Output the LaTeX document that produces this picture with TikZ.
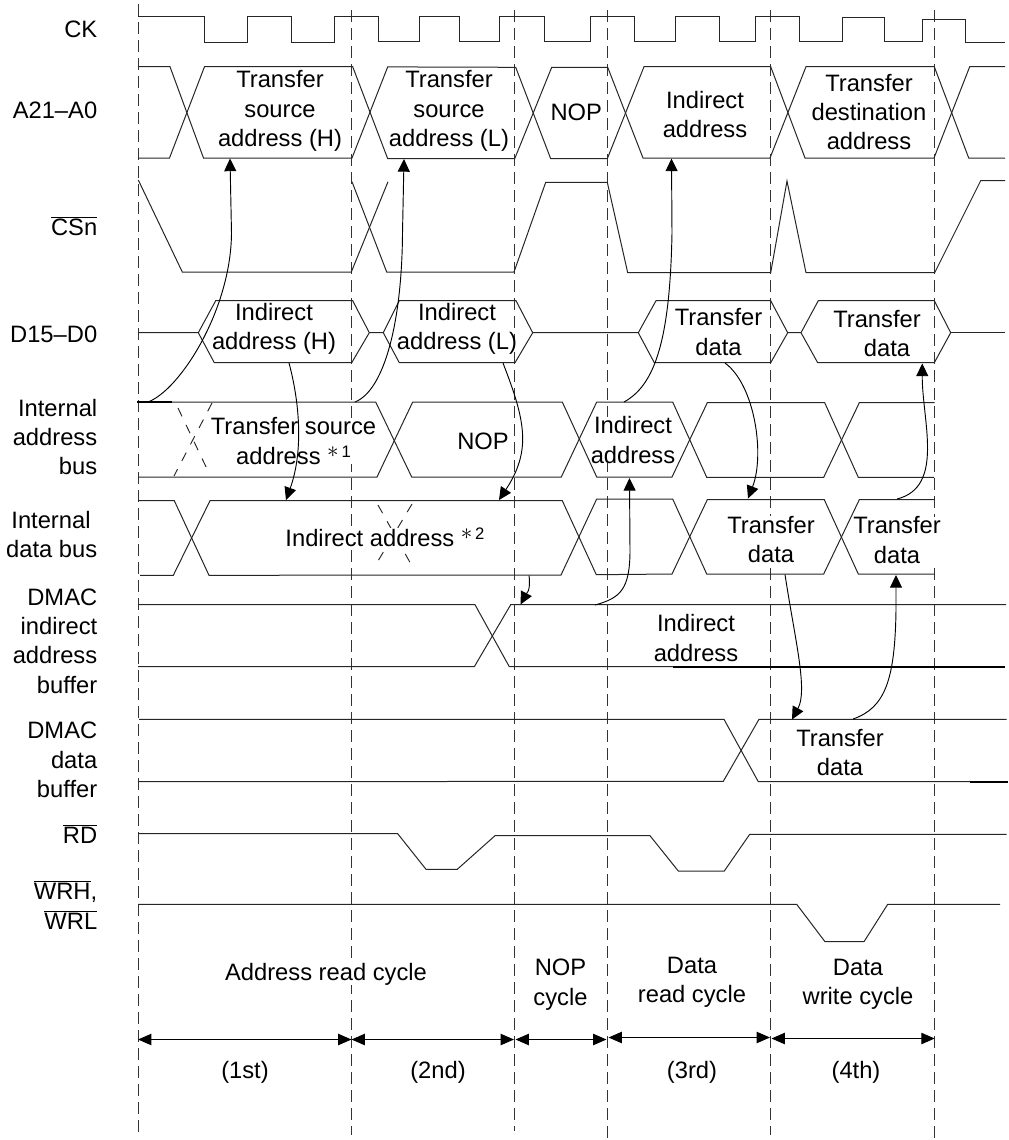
\documentclass[tikz,border=0pt]{standalone}
\usepackage{fontspec}
\setmainfont{Liberation Sans}
\usetikzlibrary{arrows.meta}
\newcommand{\barred}[1]{$\overline{\mbox{#1}}$}
\newcommand{\notemark}[1]{\raisebox{5.2pt}{\fontsize{16}{18}\selectfont$\ast$\fontsize{12.5}{14}\selectfont\,#1}}

\begin{document}
\begin{tikzpicture}[
    x=0.75pt, y=-0.75pt,
    font=\fontsize{17.8}{22}\selectfont,
    wave/.style={draw=black!85, line width=0.75pt, line join=miter},
    heavywave/.style={draw=black, line width=1.2pt},
    cursor/.style={draw=black!80, line width=0.7pt, dash pattern=on 9pt off 4.5pt},
    ghost/.style={draw=black!85, line width=0.7pt, dash pattern=on 7pt off 7pt},
    signame/.style={anchor=east, align=right, inner sep=0pt},
    buslabel/.style={align=center, inner sep=0pt},
    masked/.style={buslabel, fill=white},
    causal/.style={-{Triangle[length=9.5pt,width=9pt]}, draw=black, line width=0.7pt},
    span/.style={{Triangle[length=10pt,width=8.5pt]}-{Triangle[length=10pt,width=8.5pt]}, draw=black, line width=0.8pt}
  ]
    \useasboundingbox (0,0) rectangle (1008,1140);

    \draw[cursor] (138,4) -- (138,1138);
    \draw[cursor] (351.5,10) -- (351.5,1135);
    \draw[cursor] (514.8,10) -- (514.8,1131);
    \draw[cursor] (607.5,10) -- (607.5,1138);
    \draw[cursor] (770.8,10) -- (770.8,1135);
    \draw[cursor] (934.6,10) -- (934.6,1138);

    \draw[ghost] (178,408) -- (208,471);
    \draw[ghost] (212,403) -- (174,476);
    \draw[ghost] (378,505) -- (412,566);
    \draw[ghost] (412,504) -- (375,566);

    \node[signame] (lblck) at (97.5,29) {CK};
    \node[signame] (lbladdr) at (97.5,110.5) {A21--A0};
    \node[signame] (lblcs) at (97.5,226) {\barred{CSn}};
    \node[signame] (lbldata) at (97.5,334) {D15--D0};
    \node[signame] (lblintaddr) at (97.5,437) {Internal\\address\\bus};
    \node[signame] (lblintdata) at (97.5,534.5) {Internal\hspace*{5pt}\mbox{}\\data bus};
    \node[signame] (lblindbuf) at (97.5,641) {DMAC\\indirect\\address\\buffer};
    \node[signame] (lbldatabuf) at (97.5,760) {DMAC\\data\\buffer};
    \node[signame] (lblrd) at (97.5,834) {\barred{RD}};
    \node[signame] (lblwr) at (97.5,905) {\barred{WRH},\\\barred{WRL}};

    \node[buslabel] (srch) at (280,111) {Transfer\\source\\address (H)};
    \node[buslabel] (srcl) at (449,111) {Transfer\\source\\address (L)};
    \node[buslabel] (nopaddr) at (576.3,112.5) {NOP};
    \node[buslabel] (indaddr) at (705,114.5) {Indirect\\address};
    \node[buslabel] (dstaddr) at (869,112) {Transfer\\destination\\address};
    \node[buslabel] (indh) at (274,329) {Indirect\\address (H)};
    \node[buslabel] (indl) at (457,329) {Indirect\\address (L)};
    \node[buslabel] (xferrd) at (718.5,332) {Transfer\\data};
    \node[buslabel] (xferwr) at (877,333.5) {Transfer\\\hspace*{15pt}data};
    \node[masked] (intsrc) at (293.5,441) {Transfer source\\address \notemark{1}};
    \node[buslabel] (intnop) at (483,441.5) {NOP};
    \node[masked] (intind) at (633,440) {Indirect\\address};
    \node[masked] (dataind) at (385,537.5) {Indirect address \notemark{2}};
    \node[masked] (dataxfer) at (771,539.5) {Transfer\\data};
    \node[masked] (dataxfertwo) at (897,540) {Transfer\\data};
    \node[buslabel] (bufind) at (696,638) {Indirect\\address};
    \node[buslabel] (bufxfer) at (840,752.5) {Transfer\\data};

    \draw[wave] (138,16.5) -- (204.5,16.5) -- (204.5,42) -- (247,42) -- (247,16.5) -- (291.5,16.5) -- (291.5,42) -- (334.5,42) -- (334.5,16.5) -- (378.5,16.5) -- (378.5,41.5) -- (419.5,41.5) -- (419.5,16.5) -- (459,16.5) -- (459,41.5) -- (499.5,41.5) -- (499.5,16) -- (544,16) -- (544,41.5) -- (590.3,41.5) -- (590.3,16) -- (634,16) -- (634,41.5) -- (675.7,41.5) -- (675.7,16) -- (719.3,16) -- (719.3,41.5) -- (755.7,41.5) -- (755.7,16) -- (799.3,16) -- (799.3,41.5) -- (842.7,41.5) -- (842.7,17) -- (884.7,17) -- (884.7,41.5) -- (922.7,41.5) -- (922.7,19) -- (965.3,19) -- (965.3,42) -- (1005,42);

    \draw[wave] (138,66.7) -- (170,66.7) -- (203.5,158) -- (352,158) -- (387.7,66.9) -- (515.7,67.3) -- (550.7,158.7) -- (607.3,158.7) -- (644,66.7) -- (770.7,66.7) -- (805,158) -- (934,158) -- (969.7,66.7) -- (1005,66.7);
    \draw[wave] (138,158) -- (169.5,158) -- (204.5,66.7) -- (352.7,66.7) -- (387.7,158.7) -- (514.7,158.7) -- (551.7,67.3) -- (607.7,67.3) -- (643,158) -- (770,158) -- (806,66.7) -- (934.3,66.7) -- (968.7,158) -- (1005,158);

    \draw[wave] (138.3,180) -- (182.3,272) -- (351.3,272) -- (388,181.7);
    \draw[wave] (352,181.7) -- (386.7,272) -- (514,272) -- (545.7,182.3) -- (607.3,182.3) -- (627.7,272.7) -- (770.7,272.7) -- (787,181) -- (806,272.7) -- (934.7,272.7) -- (980.7,180.7) -- (1005,180.7);

    \draw[wave] (138.3,332.7) -- (198.3,332.7) -- (215.7,300.7) -- (352.7,300.7) -- (369.3,332.7) -- (351.7,362.7) -- (214.3,362.7) -- (198.3,332.7);
    \draw[wave] (369.3,332.7) -- (383.3,332.7) -- (399.3,300.7) -- (516,300.7) -- (532.7,332.7) -- (515,362.7) -- (399.3,362.7) -- (383.3,332.7);
    \draw[wave] (532.7,332.7) -- (638.3,332.7) -- (656,300.7) -- (770.7,300.7) -- (787.7,332.7) -- (770.7,362.7) -- (654.3,362.7) -- (638.3,332.7);
    \draw[wave] (787.7,332.7) -- (801,332.7) -- (818.3,300.7) -- (934.3,300.7) -- (950.7,332.7) -- (934.3,362.7) -- (817.7,362.7) -- (801,332.7);
    \draw[wave] (950.7,332.7) -- (1005,332.7);

    \draw[wave] (138,402) -- (375.7,402) -- (411.7,477) -- (561.3,477) -- (596.7,402) -- (672.7,402) -- (706.7,477.3) -- (823.7,477.3) -- (859.3,402.7) -- (934.5,402.7);
    \draw[wave] (138,477) -- (377,477) -- (412.7,402) -- (562.3,402) -- (596.7,477) -- (672,477) -- (707.3,402.7) -- (824.7,402.7) -- (858.3,477.3) -- (934,477.3);
    \draw[heavywave] (137,402) -- (172,402);

    \draw[wave] (138,500.7) -- (174.3,500.7) -- (209,575.3) -- (561,575) -- (596.7,499) -- (672.7,499) -- (706.7,574) -- (823.7,574) -- (859.3,499.7) -- (934.5,499.7);
    \draw[wave] (140,575.3) -- (173.3,575.3) -- (210,500.7) -- (562.3,500.7) -- (596.3,574.7) -- (672,574) -- (707.3,499.7) -- (824.3,499.7) -- (858.3,574) -- (934,574);

    \draw[wave] (138,604.7) -- (475,604.7) -- (509.3,666.7) -- (673,666.7);
    \draw[heavywave] (673,666.7) -- (1005,666.7);
    \draw[wave] (138,666.7) -- (474.3,666.7) -- (510.7,604.7) -- (1006,604.7);

    \draw[wave] (139,719.3) -- (724,719.3) -- (758.3,781.7) -- (970,781.7);
    \draw[heavywave] (970,781.7) -- (1008,781.7);
    \draw[wave] (138,781.7) -- (723.3,781.3) -- (759,719.3) -- (1006.7,719.3);

    \draw[wave] (138,833.7) -- (397.7,833.7) -- (426,869.3) -- (457.3,869.3) -- (495,835.7) -- (650,835.7) -- (678.3,871) -- (724.3,871) -- (749.7,834.3) -- (1006.7,834.3);
    \draw[wave] (138,904.3) -- (796.7,904.3) -- (825,941.7) -- (864,941.7) -- (887.7,904.3) -- (1000,904.3);

    \coordinate (busone) at (148,402);
    \coordinate (bustwo) at (355,402);
    \coordinate (busthree) at (624,402);
    \coordinate (busfour) at (897,499);
    \coordinate (pinh) at (230,158.5);
    \coordinate (pinl) at (404,159);
    \coordinate (pinind) at (671.5,158.5);
    \coordinate (pinwr) at (922.3,363.5);
    \coordinate (outh) at (289,363);
    \coordinate (outl) at (503,363);
    \coordinate (outrd) at (725,363);
    \coordinate (inh) at (286,500);
    \coordinate (inl) at (499,500);
    \coordinate (inrd) at (748,498.5);
    \coordinate (latchout) at (529,575.5);
    \coordinate (latchin) at (520.5,604.5);
    \coordinate (indout) at (595,605);
    \coordinate (indin) at (629.5,478);
    \coordinate (xferout) at (785,574.5);
    \coordinate (xferin) at (792,719.5);
    \coordinate (bufout) at (853,719);
    \coordinate (bufin) at (896,575);

    \draw[causal] (busone) .. controls (180,390) and (231,310) .. (231.5,233) -- (pinh);
    \draw[causal] (bustwo) .. controls (385,390) and (402,320) .. (402.5,233) -- (pinl);
    \draw[causal] (busthree) .. controls (655,385) and (670,340) .. (672,233) -- (pinind);
    \draw[causal] (busfour) .. controls (945,487) and (922,420) .. (pinwr);
    \draw[causal] (outh) .. controls (299,400) and (304,450) .. (inh);
    \draw[causal] (outl) .. controls (525,420) and (532,450) .. (inl);
    \draw[causal] (outrd) .. controls (755,385) and (765,455) .. (inrd);
    \draw[causal] (latchout) .. controls (531,592) and (526,594) .. (latchin);
    \draw[causal] (indout) .. controls (620,598) and (630,590) .. (630,550) -- (indin);
    \draw[causal] (xferout) .. controls (795,640) and (808,690) .. (xferin);
    \draw[causal] (bufout) .. controls (885,708) and (895,680) .. (896,610) -- (bufin);

    \node[masked] (cycaddr) at (326,974) {Address read cycle};
    \node[buslabel] (cycnop) at (560.5,984.5) {NOP\\cycle};
    \node[buslabel] (cycrd) at (692,982.5) {Data\\read cycle};
    \node[buslabel] (cycwr) at (858,984.5) {Data\\write cycle};

    \coordinate (spanzero) at (138,1039.5);
    \coordinate (spanone) at (351.5,1039.5);
    \coordinate (spantwo) at (514,1039.5);
    \coordinate (spanthreeb) at (515.5,1039.5);
    \coordinate (spanthree) at (606.5,1039.5);
    \coordinate (spanfour) at (608.5,1037.5);
    \coordinate (spanfive) at (770,1037.5);
    \coordinate (spansix) at (771.5,1038.5);
    \coordinate (spanseven) at (934.7,1038.5);
    \draw[span] (spanzero) -- (spanone);
    \draw[span] (spanone) -- (spantwo);
    \draw[span] (spanthreeb) -- (spanthree);
    \draw[span] (spanfour) -- (spanfive);
    \draw[span] (spansix) -- (spanseven);

    \node[buslabel] (ordone) at (245,1072.5) {(1st)};
    \node[buslabel] (ordtwo) at (438,1072.5) {(2nd)};
    \node[buslabel] (ordthree) at (692,1072.5) {(3rd)};
    \node[buslabel] (ordfour) at (856,1072.5) {(4th)};
  \end{tikzpicture}
\end{document}
